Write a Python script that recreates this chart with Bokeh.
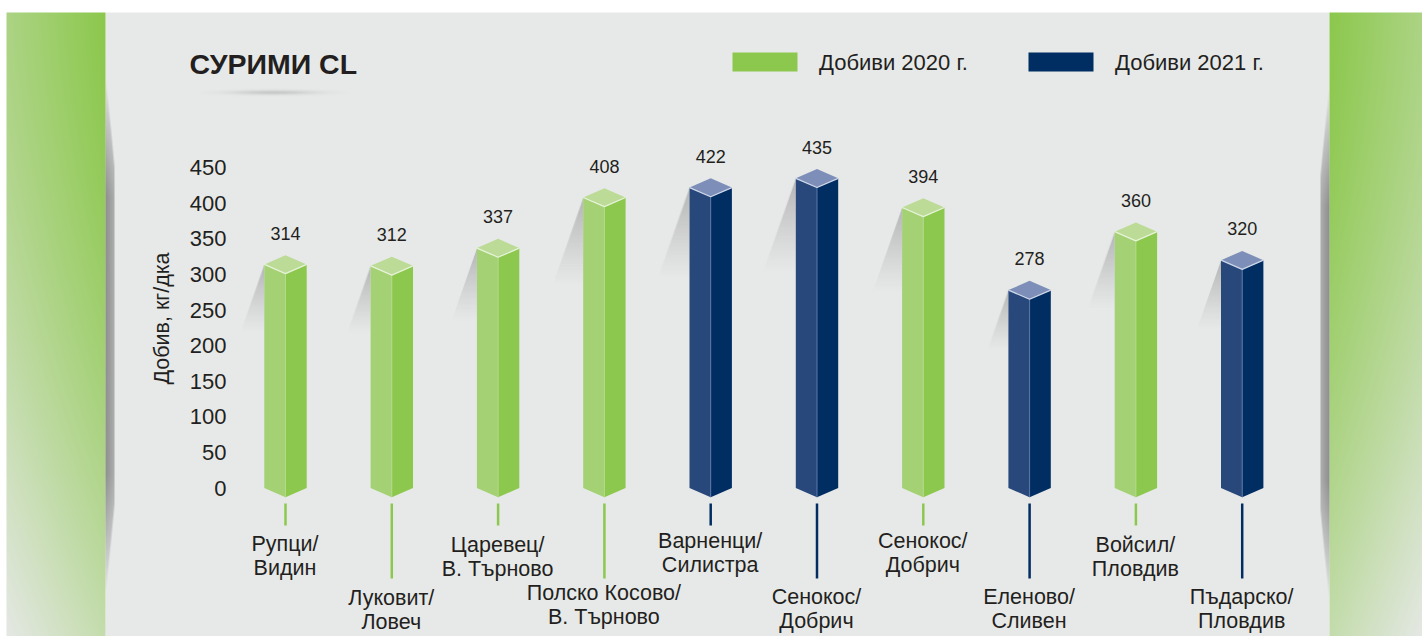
import numpy as np
from bokeh.plotting import figure
from bokeh.embed import file_html
from bokeh.resources import INLINE
from bokeh.core.properties import value
from bokeh.models import FixedTicker

categories = ["Рупци/\nВидин", "Луковит/\nЛовеч", "Царевец/\nВ. Търново", "Полско Косово/\nВ. Търново",
              "Варненци/\nСилистра", "Сенокос/\nДобрич", "Сенокос/\nДобрич", "Еленово/\nСливен",
              "Войсил/\nПловдив", "Пъдарско/\nПловдив"]
yields = [314, 312, 337, 408, 422, 435, 394, 278, 360, 320]
years = [2020, 2020, 2020, 2020, 2021, 2021, 2020, 2021, 2020, 2021]
y_ticks = [0, 50, 100, 150, 200, 250, 300, 350, 400, 450]
legend_labels = ["Добиви 2020 г.", "Добиви 2021 г."]
title_text = "СУРИМИ CL"
y_title = "Добив, кг/дка"

# ---- layout (page pixels) ----
W, H = 1422, 636
X0, XS = 285.0, 106.3
Y0, YS = 487.5, 0.712
def dx(px): return (px - X0) / XS
def dy(py): return (Y0 - py) / YS

HW = 21.2 / XS
D = 9.2 / YS
FONT = value("Liberation Sans")
TXT = "#231f20"
BG = "#e7e9e8"

PAL = {
    2020: dict(left="#a3d173", right="#8cc84d", top="#bbdb96", edge="#e6f2d8", mid="#b3d98a", stem="#8cc84d"),
    2021: dict(left="#28487c", right="#002d62", top="#7d8fb8", edge="#cdd6e8", mid="#5b77a3", stem="#002d62"),
}
stem_bottom = [525, 578] * 5
label_y = [555.5, 609, 556, 604.5, 552.5, 608, 552.5, 608, 556, 608]

p = figure(width=W, height=H, output_backend="svg", toolbar_location=None,
           x_range=(dx(0), dx(W)), y_range=(dy(H), dy(0)),
           x_axis_location=None, min_border=0)
p.grid.visible = False
p.outline_line_color = None
p.background_fill_color = "#ffffff"
p.border_fill_color = "#ffffff"


def rgba_image(rgb, alpha):
    a = np.zeros(alpha.shape + (4,), dtype=np.uint8)
    a[..., 0], a[..., 1], a[..., 2] = rgb
    a[..., 3] = np.clip(alpha * 255, 0, 255).astype(np.uint8)
    return a.view(dtype=np.uint32).reshape(alpha.shape)


def put_image(img, left, top, right, bottom):
    p.image_rgba(image=[img[::-1]], x=dx(left), y=dy(bottom), dw=dx(right) - dx(left), dh=dy(top) - dy(bottom))


# backdrop
p.quad(left=dx(105), right=dx(1329), bottom=dy(636), top=dy(12), fill_color=BG, line_color=None)

# side panels: diagonal gradients
def panel(w, h, mirror):
    u = (np.arange(w) + .5) / w
    if not mirror:
        u = 1 - u
    v = (np.arange(h) + .5) / h
    U, V = np.meshgrid(u, v)
    t = np.clip(.36 * U + .62 * V ** 1.55, 0, 1)
    c0, c1 = np.array([0x8c, 0xc8, 0x4d]), np.array([0xe7, 0xe9, 0xe8])
    out = np.zeros((h, w, 4), dtype=np.uint8)
    for k in range(3):
        out[..., k] = (c0[k] + (c1[k] - c0[k]) * t).astype(np.uint8)
    out[..., 3] = 255
    return out.view(dtype=np.uint32).reshape(h, w)

put_image(panel(99, 624, False), 6, 12, 105, 636)
put_image(panel(93, 624, True), 1329, 12, 1422, 636)


# thin dark shadows beside the panels
def sliver(w, y0, y1, mirror):
    h = y1 - y0
    a = np.zeros((h, w))
    for r in range(h):
        s = np.sin(np.pi * (r + .5) / h)
        wid = w * min(1, s * 1.9)
        for c in range(w):
            d = c + .5
            cov = np.clip(wid - d + .5, 0, 1)
            a[r, w - 1 - c if mirror else c] = cov * (.62 - .22 * d / w) * min(1, s * 1.5)
    return rgba_image((0x55, 0x55, 0x55), a)

put_image(sliver(9, 75, 595, False), 105, 75, 114, 595)
put_image(sliver(9, 85, 600, True), 1320, 85, 1329, 600)

# shadow under the title
yy, xx = np.mgrid[0:8, 0:150]
ell = np.exp(-((xx - 75) / 42.0) ** 2) * np.exp(-((yy - 3.5) / 2.2) ** 2)
put_image(rgba_image((0x80, 0x80, 0x80), ell * .32), 198, 88, 348, 96)


# shadows cast behind the bars
def bar_shadow(h, slope=.35):
    w = int(h * slope) + 2
    a = np.zeros((h, w))
    for r in range(h):
        edge = w - r * slope
        for c in range(w):
            cov = np.clip(c + 1 - edge, 0, 1)
            a[r, c] = cov * .5 * (1 - r / h) ** 1.15
    return rgba_image((0x80, 0x80, 0x80), a), w

for i, v in enumerate(yields):
    ltop = Y0 - v * YS
    lx = X0 + XS * (i - HW)
    img, w = bar_shadow(int(v * .22))
    put_image(img, lx - w, ltop, lx, ltop + img.shape[0])

# bars
for yr in (2020, 2021):
    idx = [i for i, y in enumerate(years) if y == yr]
    c = PAL[yr]
    p.patches([[i - HW, i, i, i - HW] for i in idx], [[yields[i], yields[i] - D, -D, 0] for i in idx],
              fill_color=c["left"], line_color=None)
    p.patches([[i, i + HW, i + HW, i] for i in idx], [[yields[i] - D, yields[i], 0, -D] for i in idx],
              fill_color=c["right"], line_color=None)
    p.patches([[i - HW, i, i + HW, i] for i in idx], [[yields[i], yields[i] + D, yields[i], yields[i] - D] for i in idx],
              fill_color=c["top"], line_color=None)
    p.multi_line([[i, i] for i in idx], [[yields[i] - D, -D] for i in idx], line_color=c["mid"], line_width=1)
    p.multi_line([[i - HW, i, i + HW] for i in idx], [[yields[i], yields[i] - D, yields[i]] for i in idx],
                 line_color=c["edge"], line_width=1.3)
    p.segment(x0=idx, x1=idx, y0=[dy(503)] * len(idx), y1=[dy(stem_bottom[i]) for i in idx],
              line_color=c["stem"], line_width=2.5)

# value labels
p.text(x=list(range(10)), y=[v + D + 22 / YS for v in yields], text=[str(v) for v in yields],
       text_font=FONT, text_font_size="18px", text_color=TXT, text_align="center", text_baseline="middle")

# category labels
p.text(x=[i - .005 for i in range(10)], y=[dy(v) for v in label_y], text=categories,
       text_font=FONT, text_font_size="21.5px", text_color=TXT, text_align="center", text_baseline="middle",
       text_line_height=1.0)

# title
p.text(x=[dx(189)], y=[dy(63.5)], text=[title_text], text_font=FONT, text_font_style="bold", text_font_size="28.5px",
       text_color=TXT, text_align="left", text_baseline="middle")

# legend
p.quad(left=[dx(732), dx(1028)], right=[dx(797), dx(1093)], bottom=[dy(71)] * 2, top=[dy(52)] * 2,
       fill_color=[PAL[2020]["right"], PAL[2021]["right"]], line_color=None)
p.text(x=[dx(818.5), dx(1114.5)], y=[dy(62)] * 2, text=legend_labels, text_font=FONT, text_font_size="22px",
       text_color=TXT, text_align="left", text_baseline="middle")

# value axis inside the frame
ax = p.yaxis[0]
ax.fixed_location = dx(227)
ax.ticker = FixedTicker(ticks=y_ticks)
ax.axis_line_color = None
ax.major_tick_line_color = None
ax.minor_tick_line_color = None
ax.major_tick_in = 0
ax.major_tick_out = 0
ax.major_label_standoff = 1
ax.major_label_text_font = "Liberation Sans"
ax.major_label_text_font_size = "22px"
ax.major_label_text_color = TXT
ax.axis_label = y_title
ax.axis_label_standoff = 13
ax.axis_label_text_font = "Liberation Sans"
ax.axis_label_text_font_style = "normal"
ax.axis_label_text_font_size = "21.5px"
ax.axis_label_text_color = TXT

open("out.html", "w").write(file_html(p, INLINE))
